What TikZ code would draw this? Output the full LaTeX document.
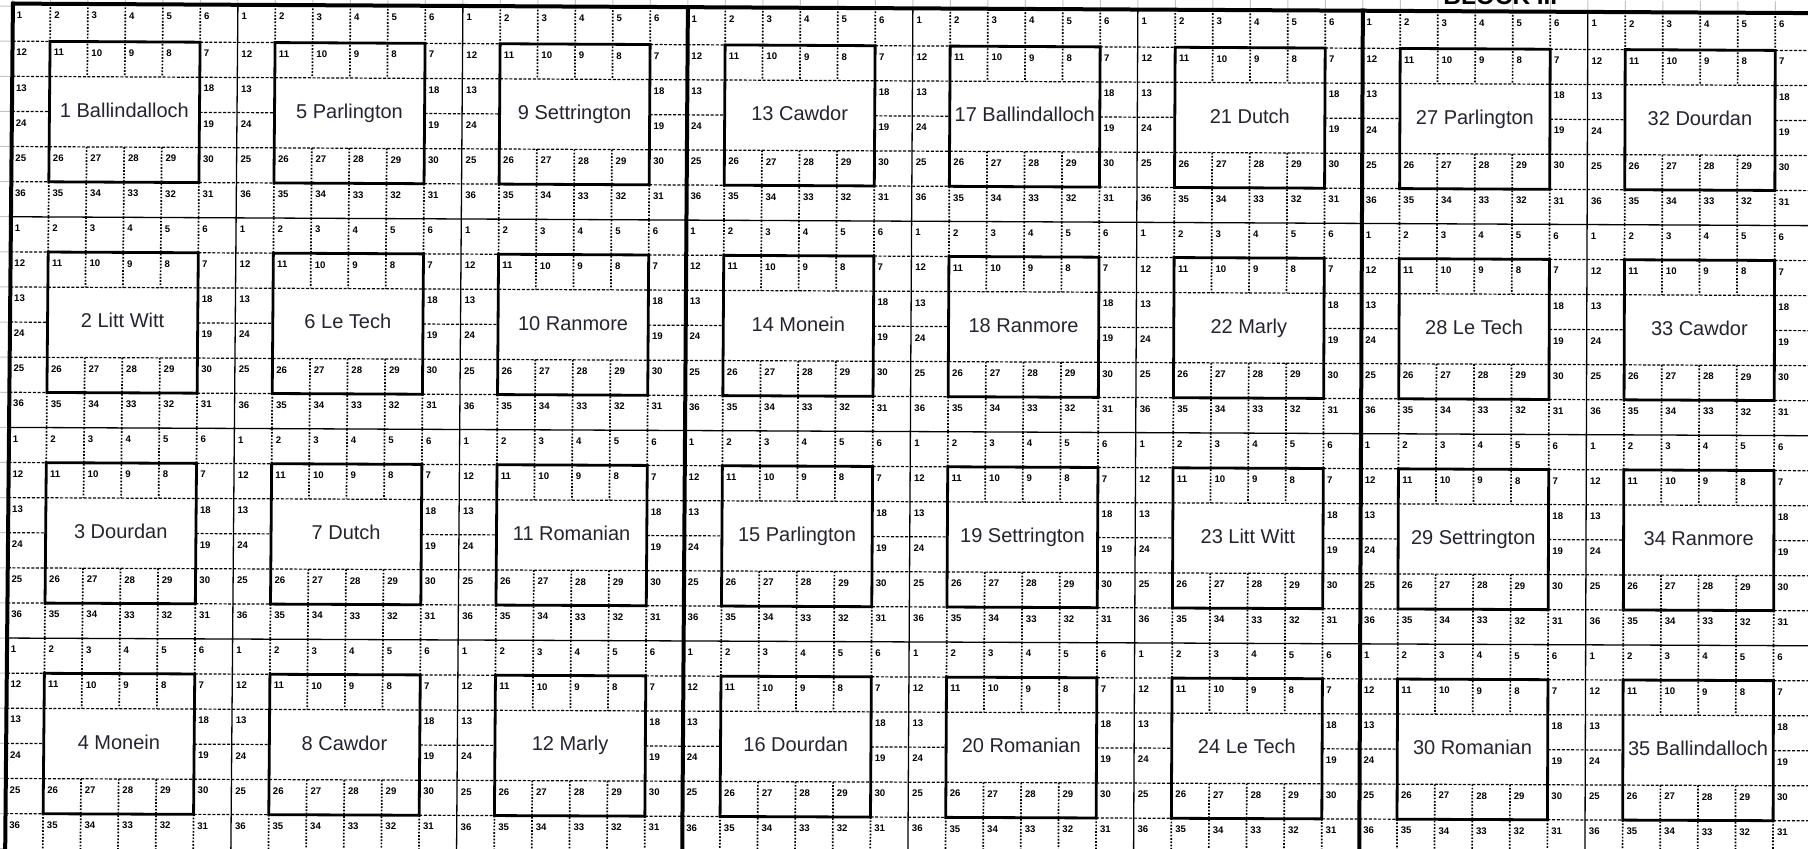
\documentclass[tikz,border=0pt]{standalone}
\usepackage{fontspec}
\setmainfont{Liberation Sans}
\definecolor{labelc}{RGB}{36,36,48}
\definecolor{sheetgrid}{RGB}{196,196,196}
\pgfkeys{/wcs/u/.initial=0,/wcs/v/.initial=0}
\tikzdeclarecoordinatesystem{w}{%
  \pgfkeys{/wcs/.cd,#1}%
  \pgfmathsetmacro\wcsU{\pgfkeysvalueof{/wcs/u}}%
  \pgfmathsetmacro\wcsV{\pgfkeysvalueof{/wcs/v}}%
  \pgfmathsetmacro\wcsS{\wcsU/1800}%
  \pgfmathsetmacro\wcsT{\wcsV/844.8}%
  \pgfmathsetmacro\wcsX{\wcsU+12.9-0.1*\wcsS-7.7*\wcsT+5.5*\wcsS*\wcsT}%
  \pgfmathsetmacro\wcsY{\wcsV+6.1+9.5*\wcsS-2.2*\wcsT-2.35*\wcsS*\wcsT}%
  \pgfpointxy{\wcsX}{\wcsY}%
}
\tikzset{
  thickln/.style={line width=2pt},
  thinln/.style={line width=0.65pt},
  boxln/.style={line width=1.4pt, line join=miter},
  dashln/.style={line width=0.6pt, dash pattern=on 1.5pt off 0.85pt},
  dotln/.style={line width=0.85pt, dash pattern=on 0.85pt off 0.8pt},
  gridln/.style={line width=0.5pt, draw=sheetgrid},
  numtxt/.style={font=\bfseries\fontsize{4.8}{5}\selectfont, inner sep=0pt, anchor=north west},
  labtxt/.style={font=\fontsize{10}{12}\selectfont, text=labelc, inner sep=0pt, anchor=base},
  blocktxt/.style={font=\bfseries\fontsize{12.2}{14}\selectfont, inner sep=0pt, anchor=base west},
}
\begin{document}
\begin{tikzpicture}[x=0.5pt,y=-0.5pt]
\path[use as bounding box, fill=white] (0pt,0pt) rectangle (904pt,-424.5pt);
% spreadsheet grid visible in the margins
\foreach \i in {0,...,48}{
  \draw[gridln] (w cs:u=37.5*\i,v=-14) -- (w cs:u=37.5*\i,v=-4);
}
\foreach \j in {0,...,24}{
  \draw[gridln] (w cs:u=-16,v=35.2*\j) -- (w cs:u=-2,v=35.2*\j);
}
% plots
\foreach \pc in {0,...,7}{
  \foreach \pr in {0,...,3}{
    \pgfmathsetmacro\uo{225*\pc}
    \pgfmathsetmacro\vo{211.2*\pr}
    \pgfmathsetmacro\vs{\vo-2.5*(\pr==0)}
    \foreach \j in {1,3,5}{
      \draw[dashln] (w cs:u=\uo,v=\vo+35.2*\j) -- (w cs:u=\uo+37.5,v=\vo+35.2*\j);
      \draw[dashln] (w cs:u=\uo+187.5,v=\vo+35.2*\j) -- (w cs:u=\uo+225,v=\vo+35.2*\j);
    }
    \foreach \j in {2,4}{
      \draw[dashln] (w cs:u=\uo,v=\vo+35.2*\j) -- (w cs:u=\uo+225,v=\vo+35.2*\j);
    }
    \foreach \i in {1,5}{
      \draw[dotln] (w cs:u=\uo+37.5*\i,v=\vs) -- (w cs:u=\uo+37.5*\i,v=\vo+35.2);
      \draw[dotln] (w cs:u=\uo+37.5*\i,v=\vo+176) -- (w cs:u=\uo+37.5*\i,v=\vo+211.2);
    }
    \foreach \i in {2,3,4}{
      \draw[dotln] (w cs:u=\uo+37.5*\i,v=\vs) -- (w cs:u=\uo+37.5*\i,v=\vo+70.4);
      \draw[dotln] (w cs:u=\uo+37.5*\i,v=\vo+140.8) -- (w cs:u=\uo+37.5*\i,v=\vo+211.2);
    }
    \draw[boxln] (w cs:u=\uo+37.5,v=\vo+35.2) -- (w cs:u=\uo+187.5,v=\vo+35.2)
      -- (w cs:u=\uo+187.5,v=\vo+176) -- (w cs:u=\uo+37.5,v=\vo+176) -- cycle;
    \foreach \r in {1,...,6}{
      \foreach \c in {1,...,6}{
        \pgfmathtruncatemacro\show{((\r<3)+(\r>4)+(\c==1)+(\c==6))>0}
        \ifnum\show=1
          \pgfmathtruncatemacro\odd{mod(\r,2)}
          \ifnum\odd=1
            \pgfmathtruncatemacro\n{(\r-1)*6+\c}
          \else
            \pgfmathtruncatemacro\n{\r*6-\c+1}
          \fi
          \pgfmathsetmacro\tv{\vo+35.2*(\r-1)+7.6-2.2*(\pr==0)*(\r==1)}
          \node[numtxt] (n-\pc-\pr-\n) at (w cs:u=\uo+37.5*\c-34,v=\tv) {\n};
        \fi
      }
    }
  }
}
% thin plot boundaries
\foreach \k in {1,2,4,5,7,8}{
  \draw[thinln] (w cs:u=225*\k,v=-3) -- (w cs:u=225*\k,v=862);
}
\foreach \k in {1,2,3}{
  \draw[thinln] (w cs:u=0,v=211.2*\k) -- (w cs:u=1810,v=211.2*\k);
}
% thick block lines
\foreach \k in {0,3,6}{
  \draw[thickln] (w cs:u=225*\k,v=-4.5) -- (w cs:u=225*\k,v=862);
}
\draw[thickln] (w cs:u=-1,v=-2.5) -- (w cs:u=1815,v=-2.5);
% labels
\foreach \pc/\pr/\txt in {
  0/0/1 Ballindalloch, 0/1/2 Litt Witt, 0/2/3 Dourdan, 0/3/4 Monein,
  1/0/5 Parlington, 1/1/6 Le Tech, 1/2/7 Dutch, 1/3/8 Cawdor,
  2/0/9 Settrington, 2/1/10 Ranmore, 2/2/11 Romanian, 2/3/12 Marly,
  3/0/13 Cawdor, 3/1/14 Monein, 3/2/15 Parlington, 3/3/16 Dourdan,
  4/0/17 Ballindalloch, 4/1/18 Ranmore, 4/2/19 Settrington, 4/3/20 Romanian,
  5/0/21 Dutch, 5/1/22 Marly, 5/2/23 Litt Witt, 5/3/24 Le Tech,
  6/0/27 Parlington, 6/1/28 Le Tech, 6/2/29 Settrington, 6/3/30 Romanian,
  7/0/32 Dourdan, 7/1/33 Cawdor, 7/2/34 Ranmore, 7/3/35 Ballindalloch}{
  \node[labtxt] (lab-\pc-\pr) at (w cs:u=225*\pc+112.5,v=211.2*\pr+110.9) {\txt};
}
\node[blocktxt] (blk) at (721.5pt,-2.4pt) {BLOCK III};
\end{tikzpicture}
\end{document}
